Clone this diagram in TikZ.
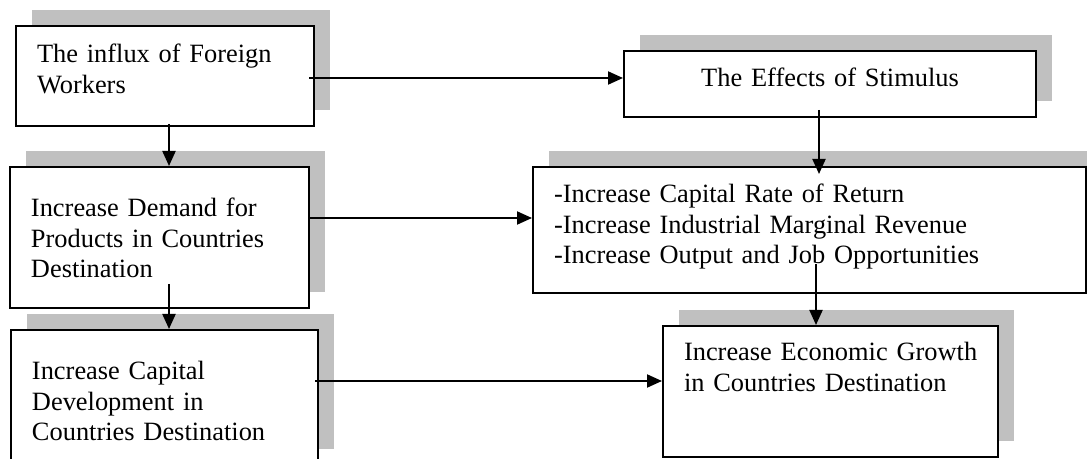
\documentclass[tikz,border=0pt]{standalone}
\usepackage{fontspec}
\setmainfont{Liberation Serif}
\usepackage{xcolor}
\usepackage{tikz}
\usetikzlibrary{positioning,arrows.meta,shadows}
\definecolor{shadowgray}{RGB}{192,192,192}
\tikzset{
  box/.style={draw, line width=1pt, fill=white, anchor=north west, align=left,
              inner xsep=10.5pt, inner ysep=0pt,
              font=\fontsize{13.2pt}{15.25pt}\selectfont,
              drop shadow={shadow xshift=8pt, shadow yshift=8pt, fill=shadowgray, opacity=1}},
  centerbox/.style={box, align=center},
  arrow/.style={-{Triangle[length=7.5pt,width=6.5pt]}, line width=1pt},
}

\begin{document}
\begin{tikzpicture}[x=0.5pt, y=-0.5pt]
  \useasboundingbox (0,0) rectangle (1087,459);

  \node[box, text width=128pt, text height=18.5pt, text depth=31.5pt]       (influx)   at (15,25)   {The influx of Foreign\\Workers};
  \node[centerbox, text width=185pt, text height=18pt, text depth=15pt]     (stimulus) at (623,50)  {The Effects of Stimulus};
  \node[box, text width=128.5pt, text height=25pt, text depth=45.5pt]       (demand)   at (9,166)   {Increase Demand for\\Products in Countries\\Destination};
  \node[box, text width=255.5pt, text height=18pt, text depth=45pt]         (effects)  at (532,166) {-Increase Capital Rate of Return\\-Increase Industrial Marginal Revenue\\-Increase Output and Job Opportunities};
  \node[box, text width=132.5pt, text height=25pt, text depth=42.5pt]       (capital)  at (10,329)  {Increase Capital\\Development in\\Countries Destination};
  \node[box, text width=146.5pt, text height=17.5pt, text depth=48pt]       (growth)   at (662,325) {\mbox{Increase Economic Growth}\\\mbox{in Countries Destination}};

  \draw[arrow] ([shift={(-3pt,-1pt)}]influx.east) -- ([yshift=-1pt]influx.east -| stimulus.west);
  \draw[arrow] ([shift={(2pt,1.5pt)}]influx.south) -- ([xshift=2pt]influx.south |- demand.north);
  \draw[arrow] ([shift={(-5.5pt,4pt)}]stimulus.south) -- ([shift={(-5.5pt,-4pt)}]stimulus.south |- effects.north);
  \draw[arrow] ([yshift=9.75pt]demand.east) -- ([yshift=9.75pt]demand.east -| effects.west);
  \draw[arrow] ([shift={(4.75pt,12.5pt)}]demand.south) -- ([xshift=4.75pt]demand.south |- capital.north);
  \draw[arrow] ([shift={(3.25pt,15pt)}]effects.south) -- ([xshift=3.25pt]effects.south |- growth.north);
  \draw[arrow] ([shift={(-2pt,8.25pt)}]capital.east) -- ([yshift=8.25pt]capital.east -| growth.west);
\end{tikzpicture}
\end{document}
